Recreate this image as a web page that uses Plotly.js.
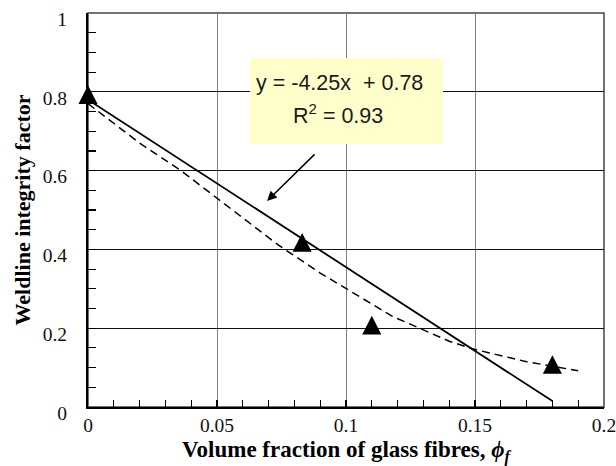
<!DOCTYPE html>
<html>
<head>
<meta charset="utf-8">
<script src="https://cdn.plot.ly/plotly-3.0.1.min.js"></script>
<style>
  html, body { margin: 0; padding: 0; background: #fff; }
  #chart { width: 616px; height: 466px; }
</style>
</head>
<body>
<div id="chart"></div>
<script>
// Measured weldline integrity factor against glass fibre volume fraction
const fibreFraction = [0, 0.083, 0.11, 0.18];
const integrityFactor = [0.785, 0.41, 0.2, 0.1];

// Linear regression quoted in the callout
const fitSlope = -4.25;
const fitIntercept = 0.78;
const fitR2 = 0.93;
const fitRange = [0, 0.18];

// Model prediction (dashed curve)
const modelX = [0, 0.02, 0.036, 0.05, 0.074, 0.09, 0.1, 0.118, 0.14, 0.15, 0.17, 0.19];
const modelY = [0.77, 0.67, 0.6, 0.53, 0.41, 0.34, 0.3, 0.23, 0.167, 0.146, 0.115, 0.092];

// Axis ticks
const xTickVals = [0, 0.05, 0.1, 0.15, 0.2];
const xTickText = ['0', '0.05', '0.1', '0.15', '0.2'];
const yTickVals = [0, 0.2, 0.4, 0.6, 0.8, 1];
const yTickText = ['0', '0.2', '0.4', '0.6', '0.8', '1'];

const serif = '"Liberation Serif", "Times New Roman", Times, serif';
const sans = '"Liberation Sans", Arial, Helvetica, sans-serif';

const fitY = fitRange.map(x => fitSlope * x + fitIntercept);

const traces = [
  {
    x: modelX, y: modelY, type: 'scatter', mode: 'lines',
    line: { color: '#000', width: 1.5, dash: '8px,5px' },
    hoverinfo: 'skip'
  },
  {
    x: fitRange, y: fitY, type: 'scatter', mode: 'lines',
    line: { color: '#000', width: 1.8 },
    hoverinfo: 'skip'
  },
  {
    x: fibreFraction, y: integrityFactor, type: 'scatter', mode: 'markers',
    marker: { symbol: 'triangle-up', size: 16.5, color: '#000' },
    cliponaxis: false
  }
];

const axisCommon = {
  ticks: 'inside', tickcolor: '#000', tickwidth: 1.2,
  showgrid: true, gridwidth: 1,
  showline: true, linecolor: '#000', linewidth: 2,
  zeroline: false, fixedrange: true,
  ticklabeloverflow: 'allow',
  tickfont: { family: serif, size: 19.5, color: '#111' }
};

const layout = {
  width: 616, height: 466,
  margin: { l: 88, r: 12, t: 13, b: 59 },
  paper_bgcolor: '#fff', plot_bgcolor: '#fff',
  showlegend: false,
  xaxis: Object.assign({}, axisCommon, {
    range: [0, 0.2],
    tickmode: 'array', tickvals: xTickVals, ticktext: xTickText,
    ticklen: 7, gridcolor: '#808080',
    minor: { tickmode: 'linear', tick0: 0, dtick: 0.01, ticks: 'inside', ticklen: 7,
             tickcolor: '#000', tickwidth: 1.2, showgrid: false },
    title: { text: '<b>Volume fraction of glass fibres, <i>ϕ</i><sub><i>f</i></sub></b>',
             font: { family: serif, size: 23, color: '#000' }, standoff: 7 }
  }),
  yaxis: Object.assign({}, axisCommon, {
    range: [0, 1],
    tickmode: 'array', tickvals: yTickVals, ticktext: yTickText,
    ticklen: 8, gridcolor: '#111',
    ticklabelstandoff: 15, ticklabelshift: 6,
    minor: { tickmode: 'linear', tick0: 0, dtick: 0.05, ticks: 'inside', ticklen: 8,
             tickcolor: '#000', tickwidth: 1.2, showgrid: false },
    title: { text: '<b>Weldline integrity factor</b>',
             font: { family: serif, size: 22, color: '#000' }, standoff: 6 }
  }),
  shapes: [
    // top and right border of the plot frame
    { type: 'rect', xref: 'paper', yref: 'paper', x0: 0, x1: 1, y0: 0, y1: 1,
      line: { color: '#444', width: 1.5 }, layer: 'below' },
    // callout box behind the regression equation
    { type: 'rect', xref: 'x', yref: 'y', x0: 0.0628, x1: 0.1376, y0: 0.6675, y1: 0.886,
      fillcolor: '#FFFFCC', line: { width: 0 }, layer: 'above' }
  ],
  annotations: [
    { xref: 'x', yref: 'y', x: 0.0973, y: 0.822, xanchor: 'center', yanchor: 'middle',
      showarrow: false,
      text: 'y = ' + fitSlope.toFixed(2) + 'x  + ' + fitIntercept.toFixed(2),
      font: { family: sans, size: 21.5, color: '#1a1a1a' } },
    { xref: 'x', yref: 'y', x: 0.0969, y: 0.744, xanchor: 'center', yanchor: 'middle',
      showarrow: false,
      text: 'R<sup>2</sup> = ' + fitR2.toFixed(2),
      font: { family: sans, size: 21.5, color: '#1a1a1a' } },
    { xref: 'x', yref: 'y', axref: 'x', ayref: 'y',
      x: 0.0694, y: 0.523, ax: 0.0884, ay: 0.645,
      text: '', showarrow: true, arrowhead: 2, arrowsize: 1.3, arrowwidth: 1.5,
      arrowcolor: '#000' }
  ]
};

Plotly.newPlot('chart', traces, layout, { staticPlot: true, displayModeBar: false })
  .then(gd => {
    // stretch the triangle markers vertically so they are as tall as they are wide
    const layers = gd.querySelectorAll('.scatterlayer .trace');
    const markerLayer = layers[layers.length - 1];
    markerLayer.querySelectorAll('path.point').forEach(p => {
      p.setAttribute('transform', (p.getAttribute('transform') || '') + ' scale(1,1.5)');
    });
  });
</script>
</body>
</html>
